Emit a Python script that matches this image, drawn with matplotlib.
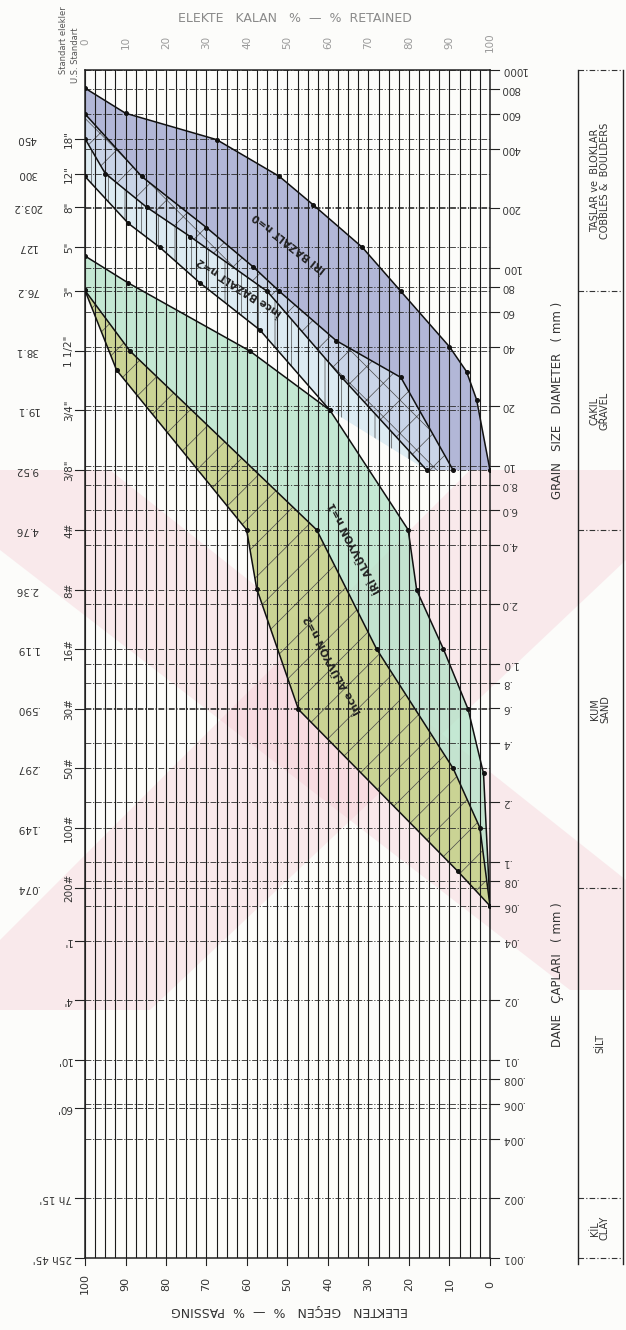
import matplotlib
matplotlib.use('Agg')
import matplotlib.pyplot as plt
import matplotlib.transforms as mtransforms
from matplotlib.patches import Polygon
import numpy as np

# -----------------------------------------------------------------------------
# Data: percent passing vs grain diameter (mm)
# -----------------------------------------------------------------------------

# upper group (bazalt)
bazalt_a_pass = [100, 90, 67.5, 52, 43.6, 31.5, 22, 10, 5.8, 3.3, 0]
bazalt_a_mm = [810, 605, 445, 290, 208, 127, 76.2, 40, 30, 21.6, 9.52]

bazalt_b_pass = [100, 86, 70, 58.4, 52, 38, 22, 9.1]
bazalt_b_mm = [600, 290, 160, 101, 76.2, 43, 28, 9.52]

bazalt_c_pass = [100, 95, 84.8, 74, 55, 36.6, 15.6]
bazalt_c_mm = [450, 300, 203, 144, 76.2, 28, 9.52]

bazalt_d_pass = [100, 89.3, 81.5, 71.6, 56.8, 39.5]
bazalt_d_mm = [290, 168, 127, 84, 48.6, 19.1]

# lower group (alüvyon)
aluvyon_g_pass = [100, 89.3, 59.3, 39.5, 20.2, 18.1, 11.5, 5.4, 1.6, 0]
aluvyon_g_mm = [115, 84, 38.1, 19.1, 4.76, 2.36, 1.19, 0.59, 0.28, 0.06]

aluvyon_y1_pass = [100, 92.2, 60.1, 57.6, 47.3, 8, 0]
aluvyon_y1_mm = [77, 30.5, 4.76, 2.4, 0.59, 0.09, 0.06]

aluvyon_y2_pass = [100, 88.9, 42.8, 28, 9.1, 2.5, 0]
aluvyon_y2_mm = [77, 38.1, 4.76, 1.19, 0.297, 0.149, 0.06]

# axis labels
pass_ticks = [100, 90, 80, 70, 60, 50, 40, 30, 20, 10, 0]
retained_ticks = [0, 10, 20, 30, 40, 50, 60, 70, 80, 90, 100]

grid_mm = [1000, 800, 600, 400, 200, 100, 80, 60, 40, 20, 10, 8, 6, 4, 2, 1,
           .8, .6, .4, .2, .1, .08, .06, .04, .02, .01, .008, .006, .004, .002, .001]
grid_text = ['1000', '800', '600', '400', '200', '100', '80', '60', '40', '20', '10',
             '8.0', '6.0', '4.0', '2.0', '1.0', '.8', '.6', '.4', '.2', '.1',
             '.08', '.06', '.04', '.02', '.01', '.008', '.006', '.004', '.002', '.001']

sieve_mm = [450, 300, 203.2, 127, 76.2, 38.1, 19.1, 9.52, 4.76, 2.36, 1.19,
            0.590, 0.297, 0.149, 0.074]
sieve_mm_text = ['450', '300', '203.2', '127', '76.2', '38.1', '19.1', '9.52', '4.76',
                 '2.36', '1.19', '.590', '.297', '.149', '.074']
sieve_names = ['18"', '12"', '8"', '5"', '3"', '1 1/2"', '3/4"', '3/8"', '4#', '8#',
               '16#', '30#', '50#', '100#', '200#']

hydro_mm = [0.04, 0.02, 0.01, 0.0057, 0.002, 0.001]
hydro_text = ["1'", "4'", "10'", "60'", "7h 15'", "25h 45'"]

class_bounds = [1000, 76.2, 4.76, 0.074, 0.002, 0.001]
class_text = ['TAŞLAR ve  BLOKLAR\nCOBBLES &  BOULDERS', 'ÇAKIL\nGRAVEL',
              'KUM\nSAND', 'SİLT', 'KİL\nCLAY']

# -----------------------------------------------------------------------------
# Figure
# -----------------------------------------------------------------------------

W, H = 626, 1330
plt.rcParams['font.family'] = ['DejaVu Sans']
plt.rcParams['hatch.linewidth'] = 0.5

fig = plt.figure(figsize=(W / 100, H / 100), dpi=100)
fig.patch.set_facecolor('#fcfcfa')


def fx(px):
    return px / W


def fy(py):
    return 1 - py / H


# pink watermark behind the sheet
PINK = '#f3c3ce'
for pts in (
    [(470, 470), (626, 470), (626, 560), (150, 1010), (0, 1010), (0, 940)],
    [(0, 470), (110, 470), (626, 880), (626, 990), (570, 990), (0, 550)],
):
    fig.add_artist(Polygon([(fx(x), fy(y)) for x, y in pts], closed=True,
                           transform=fig.transFigure, facecolor=PINK,
                           edgecolor='none', alpha=0.32, zorder=-5))

ax = fig.add_axes([fx(85), fy(1258), fx(490) - fx(85), fy(70) - fy(1258)])
ax.set_facecolor('none')
ax.set_yscale('log')
ax.set_ylim(0.001, 1000)
ax.set_xlim(100, 0)
ax.set_xticks([])
ax.set_yticks([])
ax.minorticks_off()
for s in ax.spines.values():
    s.set_linewidth(1.1)
    s.set_color('#222')

# grid: solid verticals every 2.5 %, dash-dot horizontals
for p in np.arange(0, 100.01, 2.5):
    ax.axvline(p, color='#1a1a1a', lw=0.8, zorder=2)
for v in sorted(set(grid_mm + sieve_mm + hydro_mm)):
    ax.axhline(v, color='#2a2a2a', lw=0.6, ls=(0, (7, 2, 1.5, 2)), zorder=2)

# filled envelopes
def band(x1, y1, x2, y2, color, alpha, hatch=None):
    xs = list(x1) + list(x2)[::-1]
    ys = list(y1) + list(y2)[::-1]
    ax.fill(xs, ys, facecolor=color, edgecolor='none', alpha=alpha, zorder=1)
    if hatch:
        ax.fill(xs, ys, facecolor='none', edgecolor='#4a4a4a', linewidth=0,
                hatch=hatch, zorder=1.5)


band(bazalt_a_pass, bazalt_a_mm, bazalt_b_pass, bazalt_b_mm, '#9aa0cc', 0.75)
band(bazalt_b_pass, bazalt_b_mm, bazalt_c_pass, bazalt_c_mm, '#b4c3e0', 0.7, hatch='x')
band(bazalt_c_pass, bazalt_c_mm, bazalt_d_pass, bazalt_d_mm, '#c9e0ee', 0.6, hatch='|')
band(aluvyon_g_pass, aluvyon_g_mm, aluvyon_y1_pass, aluvyon_y1_mm, '#b2e2c6', 0.75)
band(aluvyon_y1_pass, aluvyon_y1_mm, aluvyon_y2_pass, aluvyon_y2_mm, '#cdd086', 0.8, hatch='/')

for xs, ys in ((bazalt_a_pass, bazalt_a_mm), (bazalt_b_pass, bazalt_b_mm),
               (bazalt_c_pass, bazalt_c_mm), (bazalt_d_pass, bazalt_d_mm),
               (aluvyon_g_pass, aluvyon_g_mm), (aluvyon_y1_pass, aluvyon_y1_mm),
               (aluvyon_y2_pass, aluvyon_y2_mm)):
    ax.plot(xs, ys, color='#111', lw=1.1, marker='o', ms=2.6, zorder=3)

# envelope labels (hand-written on the sheet, upside down)
for txt, x, y, rot in (('İRİ BAZALT n=0', 290, 243, 142),
                       ('İnce BAZALT n=2', 240, 287, 147),
                       ('İRİ ALÜVYON n=1', 355, 548, 118),
                       ('İnce ALÜVYON n=2', 333, 665, 118)):
    fig.text(fx(x), fy(y), txt, rotation=rot, ha='center', va='center',
             fontsize=7.5, fontweight='bold', color='#222', zorder=5)

# -----------------------------------------------------------------------------
# Axis texts
# -----------------------------------------------------------------------------

figx_datay = mtransforms.blended_transform_factory(fig.transFigure, ax.transData)
axx_datay = mtransforms.blended_transform_factory(ax.transAxes, ax.transData)
datax_axy = mtransforms.blended_transform_factory(ax.transData, ax.transAxes)
datax_figy = mtransforms.blended_transform_factory(ax.transData, fig.transFigure)

# right: grain size scale
for v, t in zip(grid_mm, grid_text):
    ax.plot([1.0, 1.022], [v, v], transform=axx_datay, color='#222', lw=0.8,
            clip_on=False)
    fig.text(fx(501), v, t, transform=figx_datay, rotation=180, ha='left',
             va='center', fontsize=7.5, color='#3a3a3a')

# left: sieve sizes
for v, t, n in zip(sieve_mm, sieve_mm_text, sieve_names):
    ax.plot([-0.025, 0.0], [v, v], transform=axx_datay, color='#222', lw=0.8,
            clip_on=False)
    fig.text(fx(27), v, t, transform=figx_datay, rotation=180, ha='center',
             va='center', fontsize=7.5, color='#333')
    fig.text(fx(69), v, n, transform=figx_datay, rotation=90, ha='center',
             va='center', fontsize=7.5, color='#333')
for v, t in zip(hydro_mm, hydro_text):
    ax.plot([-0.025, 0.0], [v, v], transform=axx_datay, color='#222', lw=0.8,
            clip_on=False)
    fig.text(fx(72), v, t, transform=figx_datay, rotation=180, ha='right',
             va='center', fontsize=7.5, color='#333')

fig.text(fx(64), fy(40), 'Standart elekler', rotation=90, ha='center',
         va='center', fontsize=6, color='#555')
fig.text(fx(75), fy(55), 'U.S. Standart', rotation=90, ha='center',
         va='center', fontsize=6, color='#555')

# bottom: percent passing
for p in pass_ticks:
    ax.plot([p, p], [-0.006, 0.0], transform=datax_axy, color='#222', lw=0.8,
            clip_on=False)
    fig.text(p, fy(1284), str(p), transform=datax_figy, rotation=90, ha='center',
             va='center', fontsize=8, color='#333')
fig.text(fx(290), fy(1311), 'ELEKTEN   GEÇEN   %  —  %  PASSING', rotation=180,
         ha='center', va='center', fontsize=9, color='#333')

# top: percent retained
for r in retained_ticks:
    fig.text(100 - r, fy(42), str(r), transform=datax_figy, rotation=90,
             ha='center', va='center', fontsize=7.5, color='#9a9a9a')
fig.text(fx(295), fy(18), 'ELEKTE   KALAN   %  —  %  RETAINED', ha='center',
         va='center', fontsize=9, color='#8a8a8a')

# right: axis titles and soil classes
fig.text(fx(558), fy(400), 'GRAIN   SIZE   DIAMETER   ( mm )', rotation=90,
         ha='center', va='center', fontsize=8.5, color='#333')
fig.text(fx(557), fy(975), 'DANE   ÇAPLARI   ( mm )', rotation=90,
         ha='center', va='center', fontsize=8.5, color='#333')

box_l, box_r = 578, 623
for xx in (box_l, box_r):
    fig.add_artist(plt.Line2D([fx(xx), fx(xx)], [fy(70), fy(1264)],
                              transform=fig.transFigure, color='#222', lw=1.0))
for v in class_bounds:
    ax.plot([fx(box_l), fx(box_r)], [v, v], transform=figx_datay, color='#333',
            lw=0.8, ls=(0, (5, 2, 1, 2)), clip_on=False)
for i, t in enumerate(class_text):
    mid = np.sqrt(class_bounds[i] * class_bounds[i + 1])
    fig.text(fx(600), mid, t, transform=figx_datay, rotation=90, ha='center',
             va='center', fontsize=7, color='#333', linespacing=1.0)

fig.savefig('out.png', dpi=100, facecolor=fig.get_facecolor())
